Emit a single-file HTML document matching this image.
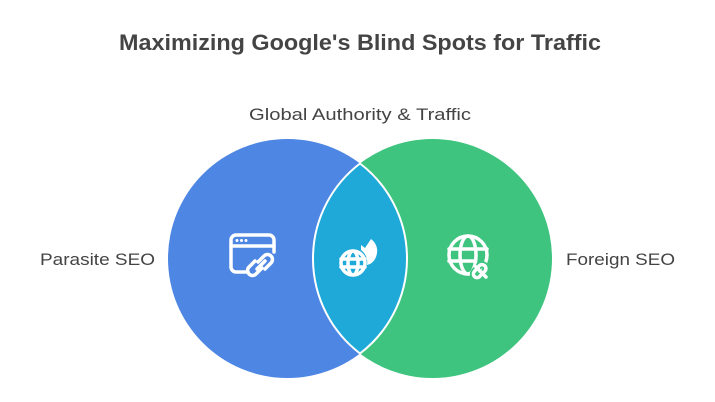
<!DOCTYPE html>
<html><head><style>
body{margin:0;background:#fff;width:715px;height:402px;overflow:hidden}
svg{display:block}
text{font-family:"Liberation Sans",sans-serif;fill:#444}
</style></head><body>
<svg width="715" height="402" viewBox="0 0 715 402">
<text x="360" y="50" text-anchor="middle" font-size="22" font-weight="bold" textLength="482" lengthAdjust="spacingAndGlyphs">Maximizing Google's Blind Spots for Traffic</text>
<text x="360" y="120" text-anchor="middle" font-size="17" textLength="222" lengthAdjust="spacingAndGlyphs">Global Authority &amp; Traffic</text>
<text x="40" y="265" font-size="17" textLength="115" lengthAdjust="spacingAndGlyphs">Parasite SEO</text>
<text x="566" y="265" font-size="17" textLength="109" lengthAdjust="spacingAndGlyphs">Foreign SEO</text>
<circle cx="287.5" cy="258.5" r="119.5" fill="#4e86e4"/>
<circle cx="432.5" cy="258.5" r="119.5" fill="#3ec47f"/>
<path d="M360 163.5 A119.5 119.5 0 0 1 360 353.5 A119.5 119.5 0 0 1 360 163.5 Z" fill="#1fa9d8" stroke="#fff" stroke-width="2"/>
<g fill="none" stroke="#fff" stroke-width="3.5" stroke-linecap="round" stroke-linejoin="round">
<!-- browser link icon -->
<path d="M248 272 H236 a5 5 0 0 1 -5 -5 V240 a5 5 0 0 1 5 -5 H269 a5 5 0 0 1 5 5 V252"/>
<line x1="231" y1="246" x2="274" y2="246"/>
<path d="M258 262 l6 -6 a4.5 4.5 0 0 1 7 7 l-6 6"/>
<path d="M262 268 l-6 6 a4.5 4.5 0 0 1 -7 -7 l6 -6"/>
<line x1="257" y1="269" x2="265" y2="261"/>
<!-- middle globe -->
<circle cx="353" cy="263" r="12"/>
<ellipse cx="353" cy="263" rx="5" ry="12"/>
<line x1="341" y1="259" x2="365" y2="259"/>
<line x1="341" y1="267" x2="365" y2="267"/>
<!-- right globe -->
<circle cx="468" cy="255" r="19"/>
<ellipse cx="468" cy="255" rx="8" ry="19"/>
<line x1="449" y1="249" x2="487" y2="249"/>
<line x1="449" y1="261" x2="475" y2="261"/>
<path d="M474 272 l5 -6 a3.5 3.5 0 0 1 6 5 l-5 5 a3.5 3.5 0 0 1 -6 -4z" stroke="#3ec47f" stroke-width="7"/>
<path d="M474 272 l5 -6 a3.5 3.5 0 0 1 6 5 l-5 5 a3.5 3.5 0 0 1 -6 -4z"/>
<line x1="475" y1="266" x2="486" y2="277"/>
</g>
<g fill="#fff">
<circle cx="237" cy="240.5" r="1.5"/><circle cx="241.5" cy="240.5" r="1.5"/><circle cx="246" cy="240.5" r="1.5"/>
<path d="M361 245 l4 3 l6 -9 c4 3 7 8 6 14 c-1 7 -5 11 -10 12 c1 -6 -1 -11 -6 -15z"/>
</g>
</svg>
</body></html>
